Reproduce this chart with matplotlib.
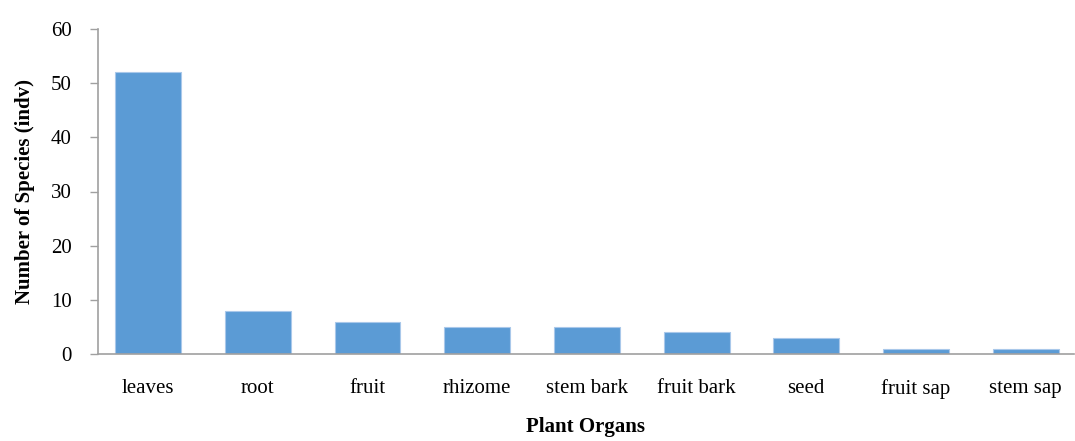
import matplotlib
matplotlib.use("Agg")
import matplotlib.pyplot as plt

categories = ["leaves", "root", "fruit", "rhizome", "stem bark", "fruit bark", "seed", "fruit sap", "stem sap"]
values = [52, 8, 6, 5, 5, 4, 3, 1, 1]
yticks = [0, 10, 20, 30, 40, 50, 60]

plt.rcParams['font.family'] = ['Liberation Serif', 'DejaVu Serif']

fig = plt.figure(figsize=(10.75, 4.41), dpi=100)
ax = fig.add_axes([98/1075, 1-354/441, (1074-98)/1075, (354-29)/441])

x = list(range(len(categories)))
ax.bar(x, values, width=0.6, color="#5B9BD5", edgecolor="#A9C8EA", linewidth=0.8, zorder=2)
ax.set_xlim(-0.456, 8.44)
ax.set_ylim(0, 60)
ax.set_yticks(yticks)
ax.set_xticks(x)
ax.set_xticklabels(categories, fontsize=15)
ax.tick_params(axis='x', length=0, pad=18)
ax.tick_params(axis='y', length=6, width=1, color="#A0A0A0", labelsize=15, pad=13)
for s in ["top", "right"]:
    ax.spines[s].set_visible(False)
for s in ["left", "bottom"]:
    ax.spines[s].set_color("#A0A0A0")
    ax.spines[s].set_linewidth(1.2)

ax.set_xlabel("Plant Organs", fontsize=15, fontweight="bold", labelpad=13)
ax.set_ylabel("Number of Species (indv)", fontsize=15, fontweight="bold", labelpad=11)

fig.savefig("out.png", dpi=100)
